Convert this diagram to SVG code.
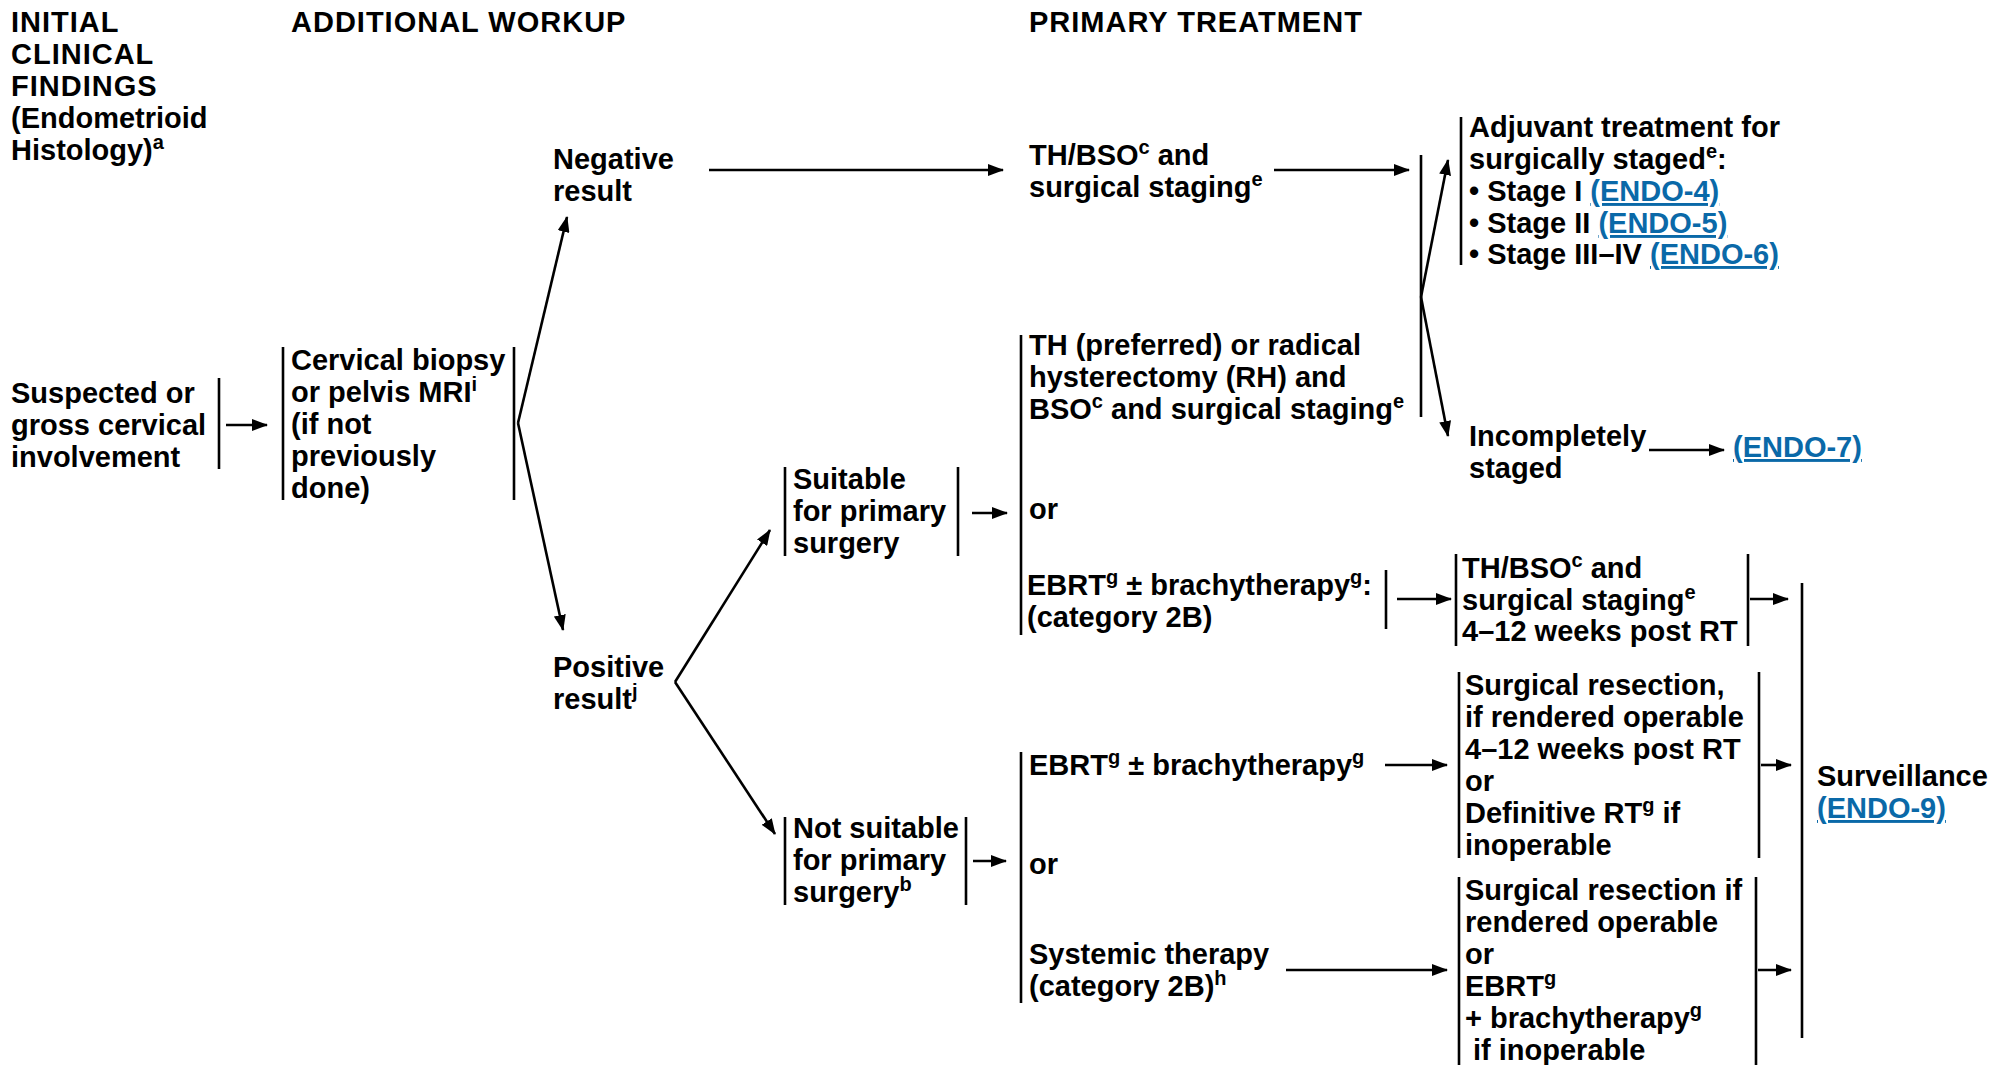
<svg xmlns="http://www.w3.org/2000/svg" width="1992" height="1065" viewBox="0 0 1992 1065">
<defs>
<style>
text { font-family: "Liberation Sans", Arial, Helvetica, sans-serif; font-weight: bold; font-size: 29px; fill: #000; }
.h { letter-spacing: 1px; }
.s { font-size: 20px; }
.lnk { fill: #0a69a8; text-decoration: underline; }
.bar { stroke: #000; stroke-width: 2.6; fill: none; }
.ar { stroke: #000; stroke-width: 2.6; fill: none; marker-end: url(#ah); }
</style>
<marker id="ah" markerUnits="userSpaceOnUse" markerWidth="16" markerHeight="12" refX="15" refY="6" orient="auto">
<path d="M0,0 L16,6 L0,12 z" fill="#000"/>
</marker>
</defs>
<rect width="1992" height="1065" fill="#fff"/>

<g id="headers">
<text class="h" x="11" y="32">INITIAL</text>
<text class="h" x="11" y="64">CLINICAL</text>
<text class="h" x="11" y="96">FINDINGS</text>
<text x="11" y="128">(Endometrioid</text>
<text x="11" y="160">Histology)<tspan class="s" dy="-11">a</tspan></text>
<text class="h" x="291" y="32">ADDITIONAL WORKUP</text>
<text class="h" x="1029" y="32">PRIMARY TREATMENT</text>
</g>

<g id="n-suspected">
<text x="11" y="403">Suspected or</text>
<text x="11" y="435">gross cervical</text>
<text x="11" y="467">involvement</text>
<line class="bar" x1="219" y1="378" x2="219" y2="469"/>
</g>

<g id="n-cervical">
<line class="bar" x1="283" y1="347" x2="283" y2="500"/>
<line class="bar" x1="514" y1="347" x2="514" y2="500"/>
<text x="291" y="370">Cervical biopsy</text>
<text x="291" y="402">or pelvis MRI<tspan class="s" dy="-11">i</tspan></text>
<text x="291" y="434">(if not</text>
<text x="291" y="466">previously</text>
<text x="291" y="498">done)</text>
</g>

<g id="n-negative">
<text x="553" y="169">Negative</text>
<text x="553" y="201">result</text>
</g>

<g id="n-positive">
<text x="553" y="677">Positive</text>
<text x="553" y="709">result<tspan class="s" dy="-11">j</tspan></text>
</g>

<g id="n-thbso1">
<text x="1029" y="165">TH/BSO<tspan class="s" dy="-11">c</tspan><tspan dy="11"> and</tspan></text>
<text x="1029" y="197">surgical staging<tspan class="s" dy="-11">e</tspan></text>
</g>

<g id="n-adjuvant">
<line class="bar" x1="1461" y1="117" x2="1461" y2="265"/>
<text x="1469" y="137">Adjuvant treatment for</text>
<text x="1469" y="169">surgically staged<tspan class="s" dy="-11">e</tspan><tspan dy="11">:</tspan></text>
<text x="1469" y="201">• Stage I <tspan class="lnk">(ENDO-4)</tspan></text>
<text x="1469" y="233">• Stage II <tspan class="lnk">(ENDO-5)</tspan></text>
<text x="1469" y="264">• Stage III–IV <tspan class="lnk">(ENDO-6)</tspan></text>
</g>

<g id="n-incomplete">
<text x="1469" y="446">Incompletely</text>
<text x="1469" y="478">staged</text>
</g>

<g id="n-endo7">
<text x="1733" y="457" class="lnk">(ENDO-7)</text>
</g>

<g id="n-suitable">
<line class="bar" x1="785" y1="467" x2="785" y2="556"/>
<line class="bar" x1="958" y1="467" x2="958" y2="556"/>
<text x="793" y="489">Suitable</text>
<text x="793" y="521">for primary</text>
<text x="793" y="553">surgery</text>
</g>

<g id="n-notsuitable">
<line class="bar" x1="785" y1="817" x2="785" y2="905"/>
<line class="bar" x1="966" y1="817" x2="966" y2="905"/>
<text x="793" y="838">Not suitable</text>
<text x="793" y="870">for primary</text>
<text x="793" y="902">surgery<tspan class="s" dy="-11">b</tspan></text>
</g>

<g id="n-primary-surgical">
<line class="bar" x1="1021" y1="335" x2="1021" y2="635"/>
<text x="1029" y="355">TH (preferred) or radical</text>
<text x="1029" y="387">hysterectomy (RH) and</text>
<text x="1029" y="419">BSO<tspan class="s" dy="-11">c</tspan><tspan dy="11"> and surgical staging</tspan><tspan class="s" dy="-11">e</tspan></text>
<text x="1029" y="519">or</text>
<text x="1027" y="595">EBRT<tspan class="s" dy="-11">g</tspan><tspan dy="11"> ± brachytherapy</tspan><tspan class="s" dy="-11">g</tspan><tspan dy="11">:</tspan></text>
<text x="1027" y="627">(category 2B)</text>
<line class="bar" x1="1386" y1="570" x2="1386" y2="629"/>
</g>

<g id="n-thbso2">
<line class="bar" x1="1456" y1="554" x2="1456" y2="646"/>
<line class="bar" x1="1748" y1="554" x2="1748" y2="646"/>
<text x="1462" y="578">TH/BSO<tspan class="s" dy="-11">c</tspan><tspan dy="11"> and</tspan></text>
<text x="1462" y="610">surgical staging<tspan class="s" dy="-11">e</tspan></text>
<text x="1462" y="641">4–12 weeks post RT</text>
</g>

<g id="n-primary-nonsurgical">
<line class="bar" x1="1021" y1="752" x2="1021" y2="1003"/>
<text x="1029" y="775">EBRT<tspan class="s" dy="-11">g</tspan><tspan dy="11"> ± brachytherapy</tspan><tspan class="s" dy="-11">g</tspan></text>
<text x="1029" y="874">or</text>
<text x="1029" y="964">Systemic therapy</text>
<text x="1029" y="996">(category 2B)<tspan class="s" dy="-11">h</tspan></text>
</g>

<g id="n-resect1">
<line class="bar" x1="1459" y1="672" x2="1459" y2="858"/>
<line class="bar" x1="1759" y1="672" x2="1759" y2="858"/>
<text x="1465" y="695">Surgical resection,</text>
<text x="1465" y="727">if rendered operable</text>
<text x="1465" y="759">4–12 weeks post RT</text>
<text x="1465" y="791">or</text>
<text x="1465" y="823">Definitive RT<tspan class="s" dy="-11">g</tspan><tspan dy="11"> if</tspan></text>
<text x="1465" y="855">inoperable</text>
</g>

<g id="n-resect2">
<line class="bar" x1="1459" y1="877" x2="1459" y2="1065"/>
<line class="bar" x1="1756" y1="877" x2="1756" y2="1065"/>
<text x="1465" y="900">Surgical resection if</text>
<text x="1465" y="932">rendered operable</text>
<text x="1465" y="964">or</text>
<text x="1465" y="996">EBRT<tspan class="s" dy="-11">g</tspan></text>
<text x="1465" y="1028">+ brachytherapy<tspan class="s" dy="-11">g</tspan></text>
<text x="1473" y="1060">if inoperable</text>
</g>

<g id="n-surveillance">
<line class="bar" x1="1802" y1="583" x2="1802" y2="1038"/>
<text x="1817" y="786">Surveillance</text>
<text x="1817" y="818" class="lnk">(ENDO-9)</text>
</g>

<g id="connectors">
<line class="ar" x1="226" y1="425" x2="267" y2="425"/>
<line class="ar" x1="518" y1="423" x2="567" y2="217"/>
<line class="ar" x1="518" y1="423" x2="563" y2="630"/>
<line class="ar" x1="709" y1="170" x2="1003" y2="170"/>
<line class="ar" x1="1274" y1="170" x2="1409" y2="170"/>
<line class="bar" x1="1421" y1="155" x2="1421" y2="417"/>
<line class="ar" x1="1421" y1="297" x2="1448" y2="160"/>
<line class="ar" x1="1421" y1="297" x2="1448" y2="436"/>
<line class="ar" x1="1649" y1="450" x2="1724" y2="450"/>
<line class="ar" x1="675" y1="682" x2="770" y2="530"/>
<line class="ar" x1="675" y1="682" x2="775" y2="834"/>
<line class="ar" x1="972" y1="513" x2="1007" y2="513"/>
<line class="ar" x1="973" y1="861" x2="1006" y2="861"/>
<line class="ar" x1="1397" y1="599" x2="1451" y2="599"/>
<line class="ar" x1="1750" y1="599" x2="1788" y2="599"/>
<line class="ar" x1="1385" y1="765" x2="1447" y2="765"/>
<line class="ar" x1="1286" y1="970" x2="1447" y2="970"/>
<line class="ar" x1="1761" y1="765" x2="1791" y2="765"/>
<line class="ar" x1="1758" y1="970" x2="1791" y2="970"/>
</g>
</svg>
